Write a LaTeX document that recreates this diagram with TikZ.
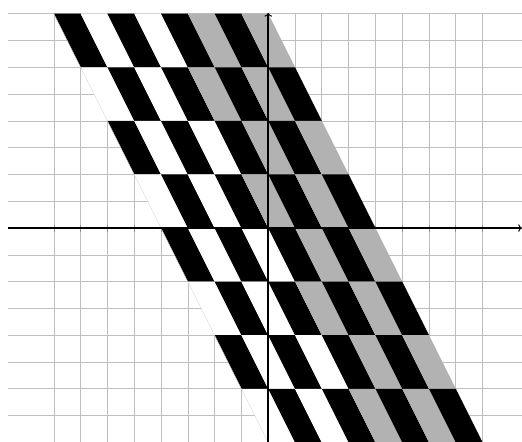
\documentclass[tikz,border=0pt]{standalone}
\usetikzlibrary{arrows.meta}
\tikzset{
  gridline/.style={draw=gray!50, line width=0.7pt},
  tickmark/.style={draw=gray!85, line width=0.7pt},
  axisline/.style={draw=black, line width=1.9pt, -{To[length=4pt,width=8pt,line width=1pt]}},
  blackcell/.style={fill=black},
  whitecell/.style={fill=white},
  graycell/.style={fill=gray!60},
  edgeline/.style={draw=gray!35, line width=0.3pt}
}
\begin{document}
\begin{tikzpicture}
\useasboundingbox (-10.01,-7.95) rectangle (9.47,8.51);
\begin{scope}
\clip (-10.01,-7.95) rectangle (9.47,8.51);
% grid
\foreach \x in {-8,...,8} \draw[gridline] (\x,-8.5) -- (\x,8);
\foreach \y in {-8,...,8} \draw[gridline] (-9.7,\y) -- (9.8,\y);
% ticks on x axis
\foreach \x in {-8,...,8} \draw[tickmark] (\x,-0.13) -- (\x,0.13);
% sheared checkerboard
\foreach \j in {0,...,7} {
  \foreach \i in {0,...,7} {
    \pgfmathtruncatemacro{\cpar}{mod(\i+\j,2)}
    \pgfmathsetmacro{\xl}{-8+\i+\j}
    \pgfmathsetmacro{\yt}{8-2*\j}
    \ifnum\cpar=0
      \def\cellstyle{blackcell}
    \else
      \ifnum\i<4 \def\cellstyle{whitecell}\else\def\cellstyle{graycell}\fi
    \fi
    \path[\cellstyle] (\xl,\yt) -- ++(1,0) -- ++(1,-2) -- ++(-1,0) -- cycle;
  }
}
\draw[edgeline] (-8,8) -- (0,-8);
% axes
\coordinate (xs) at (-9.7,0);
\coordinate (xe) at (9.47,0);
\coordinate (ys) at (0,-8.3);
\coordinate (ye) at (0,8.03);
\draw[axisline] (xs) -- (xe);
\draw[axisline] (ys) -- (ye);
\end{scope}
\end{tikzpicture}
\end{document}
